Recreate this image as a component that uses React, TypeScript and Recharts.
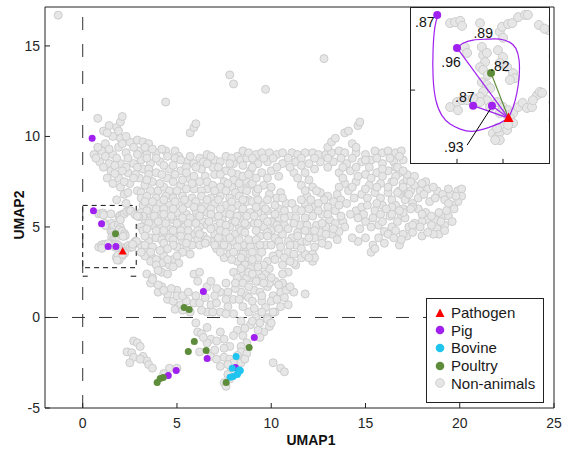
import React from 'react';
import { ScatterChart, Scatter, XAxis, YAxis, ReferenceLine, ReferenceArea } from 'recharts';

type P = [number, number];

// ---- non-animal isolates (UMAP1, UMAP2) ----
const nonAnimalsOutliers: P[] = [
  [-1.3, 16.7], [4.4, 11.9], [7.8, 13.4], [8.0, 12.9], [9.7, 12.6], [12.8, 14.3],
  [5.7, 10.2], [5.9, 10.5], [6.0, 10.7], [4.9, 9.2], [5.1, 8.9],
];

const nonAnimalsUpper: P[] = [
  [0.8, 11.0], [1.4, 10.6], [1.1, 10.3], [1.8, 10.5], [2.0, 10.8], [2.1, 11.1], [1.6, 10.0],
  [1.2, 9.6], [2.0, 9.9], [2.5, 9.7], [2.9, 9.8], [3.2, 9.7], [3.5, 9.6],
  [0.6, 9.0], [1.0, 9.2], [1.6, 9.0], [1.9, 9.4], [2.3, 9.1], [3.0, 9.2], [3.4, 9.0], [3.9, 9.1], [4.4, 9.2],
  [0.9, 8.6], [1.4, 8.5], [2.0, 8.5], [2.7, 8.5], [3.1, 8.7], [3.6, 8.5], [4.1, 8.6], [4.9, 8.8], [5.5, 8.6],
  [5.9, 8.5], [6.2, 8.8], [6.6, 9.0], [7.0, 8.7], [7.3, 8.6], [7.6, 8.9], [8.0, 8.5], [8.2, 8.9], [8.5, 9.2],
  [1.5, 8.1], [2.4, 8.0], [3.2, 8.2], [3.9, 8.0], [4.6, 8.2], [5.2, 8.1], [6.3, 8.2], [6.9, 8.3], [7.6, 8.1],
  [8.2, 7.9], [8.9, 8.1],
  [1.3, 7.7], [1.9, 7.7], [3.0, 7.7], [3.7, 7.5], [4.5, 7.7], [5.6, 7.7], [6.2, 7.5], [7.0, 7.9], [7.5, 7.5],
  [8.0, 7.6], [8.7, 7.5],
  [2.0, 7.2], [2.5, 7.4], [2.9, 7.0], [3.3, 7.3], [4.0, 7.0], [4.3, 7.2], [5.2, 7.3], [5.9, 7.1], [6.6, 7.1],
  [7.3, 7.2], [7.9, 7.2], [8.4, 7.1],
  [1.8, 6.5], [2.3, 6.3], [2.2, 6.8], [9.1, 8.6], [9.4, 9.0],
  // denser strands
  [1.3, 10.2], [1.9, 10.3], [2.3, 10.0],
  [0.8, 9.4], [1.4, 9.3], [2.1, 9.6], [2.7, 9.4], [3.3, 9.4], [3.7, 9.3], [4.2, 9.3],
  [0.7, 8.8], [1.2, 8.9], [1.8, 8.8], [2.4, 8.8], [2.9, 9.0], [3.4, 8.8], [3.9, 8.8], [4.5, 8.9], [5.2, 8.7],
  [5.7, 8.9], [6.4, 8.6], [6.8, 8.9], [7.9, 8.8], [8.4, 8.7], [8.7, 8.8],
  [1.1, 8.3], [1.7, 8.4], [2.3, 8.3], [2.9, 8.3], [3.5, 8.2], [4.3, 8.4], [4.8, 8.4], [5.5, 8.3], [6.0, 8.3],
  [6.6, 8.5], [7.2, 8.3], [7.8, 8.5], [8.5, 8.4],
  [1.7, 7.95], [2.1, 8.1], [2.8, 7.9], [3.5, 7.9], [4.2, 7.9], [4.9, 7.9], [5.5, 8.0], [5.9, 7.8], [6.5, 7.8],
  [7.3, 7.9], [7.9, 8.0], [8.5, 7.8],
  [1.6, 7.4], [2.2, 7.5], [2.7, 7.7], [3.4, 7.6], [4.1, 7.4], [4.8, 7.5], [5.3, 7.6], [5.8, 7.4], [6.6, 7.5],
  [6.9, 7.3], [7.7, 7.4], [8.3, 7.4], [8.9, 7.3],
  [2.4, 6.9], [3.1, 6.9], [3.6, 7.0], [4.6, 7.0], [5.0, 7.0], [5.5, 7.1], [6.3, 7.0], [7.0, 7.0], [7.6, 7.0],
  [8.1, 6.9], [8.7, 7.0],
];

const nonAnimalsBand: P[] = [
  [8.8, 9.1], [9.2, 9.0], [9.5, 9.1], [9.9, 9.1], [10.3, 9.0], [10.6, 9.1], [11.1, 9.1], [11.4, 9.0],
  [11.8, 9.1], [12.2, 9.1], [12.5, 9.0], [12.9, 9.0], [13.2, 9.1], [13.6, 9.2], [13.9, 9.1], [14.5, 9.1],
  [15.0, 9.0], [15.5, 9.2], [15.9, 9.1], [16.2, 9.2], [16.6, 9.1], [16.9, 9.2],
  [13.0, 9.4], [13.2, 9.7], [13.4, 9.9], [13.9, 10.2], [14.1, 10.3], [14.6, 10.6], [14.7, 10.8], [14.3, 9.6], [14.5, 9.4],
  [9.3, 8.5], [9.8, 8.6], [10.6, 8.5], [11.3, 8.6], [12.0, 8.5], [12.6, 8.6], [13.3, 8.6], [14.0, 8.5],
  [14.8, 8.6], [15.3, 8.7], [15.9, 8.5], [16.5, 8.6], [17.0, 8.7],
  [8.8, 7.9], [9.5, 8.0], [10.0, 8.1], [11.2, 8.0], [11.8, 8.0], [13.6, 8.0], [14.2, 8.1], [15.0, 7.9],
  [15.6, 8.0], [16.2, 8.1], [16.8, 8.0],
  [9.0, 7.4], [9.6, 7.3], [11.6, 7.3], [12.2, 7.2], [13.9, 7.4], [14.5, 7.5], [15.2, 7.3], [15.8, 7.4],
  [16.4, 7.5], [17.0, 7.4],
  [9.2, 6.9], [9.9, 6.8], [10.5, 6.9], [11.9, 6.7], [12.6, 6.9], [13.5, 6.8], [14.1, 7.0], [14.8, 6.8],
  [15.5, 6.9], [16.2, 6.9], [16.9, 6.8],
  [9.0, 8.8], [9.6, 8.8], [10.1, 8.8], [10.9, 8.8], [11.6, 8.8], [12.3, 8.8], [13.0, 8.8], [13.7, 8.8],
  [14.3, 8.8], [15.0, 8.7], [15.6, 8.8], [16.3, 8.8], [16.8, 8.9],
  [9.0, 8.3], [10.3, 8.3], [11.0, 8.3], [11.6, 8.4], [12.3, 8.2], [13.0, 8.3], [13.8, 8.3], [14.5, 8.3],
  [15.2, 8.3], [15.9, 8.2], [16.6, 8.3],
  [9.2, 7.7], [9.8, 7.7], [10.4, 7.8], [11.4, 7.7], [12.0, 7.6], [13.8, 7.7], [14.6, 7.8], [15.3, 7.7],
  [15.9, 7.8], [16.6, 7.8], [17.2, 7.6],
  [9.3, 7.1], [10.0, 7.2], [11.8, 7.0], [12.4, 7.0], [13.6, 7.2], [14.3, 7.2], [15.0, 7.1], [15.6, 7.2],
  [16.2, 7.2], [16.8, 7.0], [17.4, 7.0],
  [13.0, 6.7], [13.7, 6.5], [14.4, 6.6], [15.1, 6.6], [15.8, 6.6], [16.4, 6.5], [17.2, 6.7],
];

const nonAnimalsRight: P[] = [
  [16.7, 8.3], [17.2, 7.9], [17.6, 7.8], [17.9, 7.0], [18.3, 7.1], [18.8, 7.0], [19.1, 6.8], [19.5, 6.8],
  [19.9, 7.0], [20.1, 7.1], [20.1, 6.7], [19.9, 6.4], [19.6, 6.2], [19.7, 6.0], [19.2, 6.5],
  [16.7, 6.9], [17.1, 6.5], [17.5, 6.3], [17.8, 6.0], [18.2, 5.8], [18.3, 5.4], [18.0, 5.3], [17.6, 5.2],
  [17.3, 5.0], [16.9, 5.6], [18.7, 5.4], [19.1, 5.6], [19.4, 5.6], [19.6, 5.3], [19.2, 5.1], [18.8, 4.9],
  [18.9, 4.6], [18.0, 4.5], [16.8, 4.0], [16.5, 7.5], [17.0, 7.2], [17.6, 7.3], [17.8, 6.6], [18.4, 6.4],
  [16.6, 6.2], [17.0, 6.0], [18.2, 7.5],
  [14.5, 5.9], [14.8, 6.1], [15.1, 6.2], [15.5, 5.9], [15.9, 6.2], [16.4, 6.1], [17.5, 6.1],
  [15.0, 5.3], [15.4, 5.5], [15.7, 5.1], [16.0, 4.75], [16.4, 5.0], [16.7, 5.3], [17.1, 5.5], [17.5, 5.1],
  [15.0, 4.4], [15.4, 4.0], [15.3, 3.6], [15.7, 4.4], [16.2, 4.6], [15.8, 5.7], [16.3, 5.6], [17.0, 5.8],
  [16.5, 4.4], [17.2, 4.5], [16.0, 4.1], [15.5, 3.8],
  [17.0, 8.1], [17.4, 7.5], [18.0, 7.4], [18.6, 7.2], [19.4, 7.1], [19.8, 6.7], [19.4, 6.3], [18.7, 6.6],
  [18.1, 6.8], [17.3, 6.8], [17.4, 6.0], [18.0, 5.7], [18.5, 5.6], [18.9, 5.8], [19.3, 5.9], [16.8, 5.9],
  [16.4, 5.7], [17.9, 5.0], [18.5, 5.1], [19.0, 5.3], [18.6, 4.6], [19.2, 4.8], [17.0, 4.6], [17.5, 4.7],
  [16.9, 4.3], [18.3, 4.7], [15.6, 6.3], [16.1, 6.0], [14.9, 5.7], [15.3, 5.0], [14.7, 4.9], [14.6, 4.2],
  [15.9, 5.3], [16.6, 4.8],
];

const nonAnimalsMid: P[] = [
  [3.1, 6.6], [3.4, 6.7], [3.9, 6.6], [4.4, 6.7], [4.8, 6.6], [5.3, 6.7], [5.8, 6.6], [6.3, 6.7], [6.8, 6.6],
  [7.3, 6.7], [7.8, 6.6], [8.3, 6.7], [8.8, 6.5],
  [3.2, 6.2], [3.6, 6.1], [4.1, 6.3], [4.6, 6.2], [5.1, 6.2], [5.6, 6.3], [6.1, 6.2], [6.5, 6.2], [7.0, 6.3],
  [7.6, 6.2], [8.2, 6.2], [8.7, 6.4],
  [3.1, 5.8], [3.5, 5.7], [4.0, 5.7], [4.5, 5.9], [5.0, 5.8], [5.5, 5.7], [6.0, 5.9], [6.6, 5.8], [7.5, 5.7],
  [8.0, 5.5], [8.4, 5.7], [8.9, 5.8],
  [3.3, 5.4], [3.8, 5.3], [4.2, 5.5], [4.8, 5.4], [5.2, 5.3], [5.9, 5.4], [6.4, 5.3], [6.9, 5.5], [7.4, 5.4],
  [7.9, 5.2], [8.5, 5.4],
  [3.1, 5.0], [3.7, 5.1], [4.1, 5.0], [4.6, 4.9], [5.4, 5.0], [6.2, 5.0], [6.6, 5.1], [7.1, 5.0], [7.8, 5.0],
  [8.3, 4.9], [8.7, 5.1],
  [3.2, 4.8], [3.6, 4.4], [4.0, 4.6], [4.5, 4.6], [5.0, 4.6], [5.9, 4.6], [6.4, 4.5], [7.0, 4.6], [7.5, 4.4],
  [8.1, 4.6], [8.4, 4.8],
  [3.1, 4.0], [3.5, 4.2], [3.9, 4.4], [4.6, 4.4], [5.3, 4.2], [6.1, 4.3], [6.8, 4.2], [7.3, 4.2], [8.0, 4.2], [8.5, 4.0],
  [3.4, 3.8], [5.0, 3.9], [5.5, 3.8], [5.8, 4.0], [6.2, 4.0], [7.1, 3.8], [7.7, 3.9], [8.3, 3.7], [8.7, 3.6],
  [3.3, 3.4], [3.7, 3.3], [4.3, 3.4], [4.8, 3.2], [7.5, 3.3], [7.8, 3.5], [8.8, 3.3],
  [3.6, 3.1], [4.2, 3.0], [4.6, 2.9], [5.1, 3.0], [8.2, 3.1], [8.6, 2.9],
  [3.4, 2.4], [4.2, 2.5], [4.5, 2.4], [3.7, 2.2], [8.0, 2.5], [8.5, 2.4], [5.9, 2.4], [6.2, 2.5], [6.1, 2.0],
  [6.6, 1.7], [6.8, 2.0],
  [9.0, 6.4], [9.5, 6.2], [9.8, 5.9], [10.0, 5.3], [10.4, 5.5], [10.7, 5.1], [10.6, 4.6], [11.1, 4.4], [10.2, 4.4],
  [9.7, 4.0], [9.1, 3.9], [8.8, 3.5], [9.3, 3.3], [9.8, 3.1], [10.4, 3.5], [10.9, 3.6], [11.3, 4.0], [11.6, 4.2],
  [11.9, 4.2], [12.3, 4.4], [12.2, 3.5], [11.6, 3.3], [11.3, 2.9], [10.9, 2.5], [10.6, 2.4], [10.2, 2.0], [9.7, 2.4],
  [9.3, 2.5], [9.0, 2.9], [10.3, 6.6], [10.8, 6.3], [11.3, 6.0], [11.0, 5.6], [10.4, 6.0], [9.3, 5.8], [9.1, 5.2],
  [9.6, 5.0], [9.4, 4.5], [10.0, 4.8], [11.5, 5.1], [11.8, 5.5], [12.0, 4.8], [11.2, 3.0], [9.9, 2.7], [9.5, 2.2],
  [8.9, 2.2], [11.8, 6.3],
  [12.3, 6.1], [12.7, 5.7], [12.4, 5.1], [12.9, 5.0], [12.7, 4.4], [13.0, 4.0], [13.4, 5.9], [13.8, 5.3], [13.9, 5.0],
  [14.3, 4.4], [13.2, 4.6], [13.6, 4.75], [11.8, 3.5], [12.2, 3.1], [12.3, 3.3], [12.8, 6.5], [13.3, 6.4], [14.0, 6.3],
  [14.2, 5.7], [13.1, 5.4], [12.6, 4.7], [14.6, 5.5],
  // denser strands
  [3.3, 6.4], [3.7, 6.4], [4.3, 6.5], [4.9, 6.4], [5.4, 6.5], [6.0, 6.4], [6.6, 6.5], [7.2, 6.5], [7.9, 6.4],
  [8.5, 6.5], [9.3, 6.5], [9.8, 6.5], [10.6, 6.6], [11.1, 6.3], [11.6, 6.5], [12.1, 6.5], [12.5, 6.3],
  [3.4, 5.9], [3.9, 6.0], [4.3, 6.0], [4.8, 6.0], [5.3, 6.0], [5.9, 6.1], [6.3, 6.0], [6.8, 6.0], [7.3, 6.0],
  [7.9, 6.0], [8.5, 6.0], [9.2, 6.1], [9.7, 6.0], [10.2, 6.2], [10.7, 5.9], [11.6, 5.9], [12.0, 6.0], [12.5, 5.9],
  [13.0, 6.1], [13.6, 6.2],
  [3.2, 5.6], [3.8, 5.6], [4.3, 5.7], [4.7, 5.6], [5.3, 5.5], [5.7, 5.5], [6.2, 5.6], [6.8, 5.7], [7.2, 5.6],
  [7.8, 5.7], [8.2, 5.6], [8.7, 5.6], [9.1, 5.6], [9.6, 5.5], [10.2, 5.7], [10.7, 5.5], [11.3, 5.5], [12.2, 5.6],
  [13.0, 5.7], [13.7, 5.6],
  [3.5, 5.2], [4.0, 5.3], [4.4, 5.2], [5.0, 5.2], [5.6, 5.2], [6.0, 5.2], [6.7, 5.3], [7.3, 5.2], [7.6, 5.1],
  [8.1, 5.3], [8.6, 5.2], [9.3, 5.2], [9.8, 5.3], [10.3, 5.1], [11.2, 5.2], [11.9, 5.1], [12.7, 5.2], [13.4, 5.2],
  [3.4, 4.9], [3.9, 4.8], [4.3, 4.8], [4.8, 4.8], [5.2, 4.8], [5.6, 4.8], [6.1, 4.8], [6.8, 4.9], [7.3, 4.8],
  [7.6, 4.7], [8.6, 4.7], [9.2, 4.8], [9.8, 4.7], [10.4, 4.9], [10.9, 4.9], [11.4, 4.7], [11.8, 4.8], [12.3, 4.8],
  [13.3, 4.9],
  [3.3, 4.5], [4.2, 4.3], [4.8, 4.3], [5.2, 4.5], [5.6, 4.4], [6.2, 4.6], [6.6, 4.3], [7.2, 4.4], [7.8, 4.4],
  [8.3, 4.3], [8.8, 4.3], [9.2, 4.3], [9.8, 4.5], [10.4, 4.2], [10.9, 4.2], [11.4, 4.5], [12.0, 4.4], [12.9, 4.6],
  [13.5, 4.3],
  [3.3, 4.0], [3.7, 3.9], [4.3, 4.1], [4.8, 4.0], [5.5, 4.1], [6.5, 4.1], [7.0, 4.0], [7.5, 4.0], [8.2, 3.9],
  [8.9, 3.9], [9.4, 4.0], [10.0, 4.0], [10.5, 3.9], [11.0, 4.0], [11.6, 3.8], [12.3, 3.9], [12.7, 4.1],
  [3.1, 3.6], [3.6, 3.6], [4.1, 3.7], [4.5, 3.8], [5.3, 3.6], [5.7, 3.5], [7.3, 3.6], [8.0, 3.6], [8.5, 3.5],
  [9.0, 3.6], [9.5, 3.6], [10.1, 3.4], [10.7, 3.3], [11.2, 3.5], [12.0, 3.3],
  [3.9, 3.2], [4.5, 3.2], [5.0, 3.4], [7.9, 3.2], [8.4, 3.3], [9.0, 3.2], [9.6, 2.9], [10.2, 3.2], [10.6, 2.9],
  [11.0, 3.1], [9.3, 2.8], [8.9, 2.7], [8.4, 2.7], [3.9, 2.9], [4.0, 2.6], [4.8, 2.8], [8.2, 2.2], [8.7, 2.2],
];

const nonAnimalsLower: P[] = [
  [3.6, 1.9], [3.7, 2.1], [4.0, 1.4], [4.2, 1.7], [4.5, 1.0], [4.8, 0.9], [4.9, 0.45], [5.0, 1.5], [4.0, 1.8],
  [4.5, 1.3], [5.0, 1.2], [5.2, 0.7], [5.5, 0.9], [5.9, 0.8], [6.2, 0.8], [6.8, 0.7], [6.6, 0.3], [7.1, 0.8],
  [7.3, 0.3], [7.7, 0.6], [8.0, 1.0], [8.4, 1.4], [8.7, 1.2], [9.1, 1.5], [9.4, 1.4], [9.8, 1.7], [10.1, 1.2],
  [10.5, 1.4], [10.8, 1.5], [11.2, 1.4], [8.5, 1.9], [9.3, 2.0], [9.9, 1.9], [10.6, 1.9], [7.7, 1.4], [7.3, 1.4],
  [7.6, 1.9], [8.1, 1.6], [8.8, 1.1], [5.3, 0.4], [5.7, 0.3],
  [8.8, 2.5], [9.2, 2.0], [8.8, 1.7], [9.0, 0.9], [9.5, 0.9], [8.8, 0.3], [9.7, 0.55], [9.2, 0.0], [10.0, 0.9],
  [10.9, 0.7], [10.2, 0.3], [9.8, 0.0], [10.4, 1.8], [11.8, 1.3],
  [9.8, -0.1], [9.9, -0.5], [9.6, -0.8], [10.1, 0.3], [10.5, 0.6], [9.3, -0.7], [9.4, -1.1],
  [8.0, 0.2], [8.4, -0.2], [8.9, -0.4],
  [6.0, -0.3], [6.1, -0.8], [6.3, -0.9], [6.6, -0.55], [6.8, -1.2], [7.1, -1.3], [7.5, -1.2], [7.3, -0.8],
  [8.2, -0.7], [8.5, -1.0], [8.7, -1.4], [8.4, -1.6], [8.4, -1.9], [6.2, -1.9], [6.8, -2.15], [7.1, -2.3],
  [7.5, -2.2], [7.8, -2.3], [8.0, -2.5], [7.9, -2.9], [7.7, -3.15], [7.5, -3.6], [7.6, -3.8], [8.4, -2.5],
  [8.7, -2.0], [7.8, -3.4],
  [2.7, -1.3], [2.9, -1.4], [3.05, -1.6], [2.35, -1.9], [2.6, -1.95], [2.7, -2.2], [2.5, -2.5], [3.2, -2.15],
  [3.4, -2.4], [3.5, -2.6], [3.7, -2.8], [3.05, -2.3],
  [4.6, -2.8], [5.0, -2.8], [4.3, -3.1],
  [10.1, -2.5], [10.5, -2.8], [10.7, -3.0],
  [4.3, 1.5], [4.7, 1.6], [5.3, 1.2], [5.6, 1.4], [6.0, 1.2], [6.5, 1.1], [7.0, 1.2], [7.6, 1.0], [8.3, 1.0],
  [8.5, 0.6], [9.1, 0.5], [9.5, 1.2], [10.3, 1.0], [10.7, 1.1], [11.0, 1.7], [9.6, 1.9], [10.0, 2.2], [9.0, 2.4],
  [8.1, 1.9], [7.1, 1.6], [6.9, 0.3], [6.3, 0.4], [7.6, 0.2], [9.5, 0.3], [9.0, -0.2], [9.4, -0.3], [10.0, -0.3],
  [8.6, -0.6], [8.0, -1.0], [7.8, -1.6], [7.5, -1.7], [7.0, -1.8], [6.6, -1.4], [6.4, -1.1], [8.2, -2.1],
  [7.7, -2.6], [7.3, -2.7], [8.6, -2.3],
];

// points inside the dashed box
const nonAnimalsBox: P[] = [
  [0.85, 5.72], [0.96, 5.74], [1.07, 5.77], [1.11, 5.66], [1.5, 5.72], [1.93, 5.53], [1.98, 5.64], [2.11, 5.7],
  [2.2, 5.72], [2.33, 5.85], [2.48, 5.9], [2.54, 5.9], [1.17, 5.2], [1.22, 5.07], [1.54, 5.2], [1.57, 5.02],
  [1.61, 4.87], [1.5, 4.76], [1.65, 5.07], [1.89, 5.13], [2.0, 4.98], [1.93, 4.85], [2.09, 4.76], [2.22, 4.63],
  [2.26, 4.52], [2.15, 4.48], [1.57, 4.7], [1.67, 4.59], [1.54, 4.43], [1.65, 4.37], [1.72, 4.3], [1.57, 4.22],
  [1.5, 4.11], [1.65, 4.04], [1.87, 4.0], [1.72, 3.89], [2.0, 3.89], [2.11, 3.82], [1.93, 3.76], [2.09, 3.71],
  [2.22, 3.76], [0.85, 3.89], [1.0, 4.0], [1.11, 4.04], [1.22, 4.04], [1.02, 3.82], [1.5, 4.0], [2.33, 3.89],
  [2.43, 3.98], [2.52, 3.87], [2.63, 3.89], [2.74, 4.15], [2.8, 4.22], [2.85, 4.2], [2.65, 4.04], [1.78, 3.32],
  [1.87, 3.23], [1.93, 3.34], [2.0, 3.45], [2.09, 3.39], [1.87, 3.43], [1.93, 3.17], [1.83, 3.17], [2.15, 3.65],
  [2.22, 3.54], [2.11, 3.5], [2.98, 5.57], [2.78, 5.68], [2.9, 5.6], [2.0, 5.4], [1.35, 4.08],
];

const nonAnimals: P[] = [
  ...nonAnimalsOutliers, ...nonAnimalsUpper, ...nonAnimalsBand, ...nonAnimalsRight,
  ...nonAnimalsMid, ...nonAnimalsLower, ...nonAnimalsBox,
];

// ---- animal isolates ----
const pig: P[] = [
  [0.5, 9.9], [0.57, 5.9], [1.0, 5.18], [1.35, 3.92], [1.76, 3.92], [6.4, 1.44], [9.1, -1.1],
  [6.6, -2.27], [8.1, -2.76], [4.54, -3.2], [4.96, -2.93],
];
const bovine: P[] = [
  [8.14, -2.15], [7.98, -3.26], [7.82, -3.3], [8.25, -3.04], [8.2, -3.15], [8.36, -2.93], [7.93, -2.8], [8.3, -2.9],
];
const poultry: P[] = [
  [1.74, 4.63], [5.38, 0.55], [5.65, 0.44], [5.92, -1.33], [5.6, -1.88], [6.55, -1.82], [8.83, -1.66],
  [7.61, -3.59], [3.95, -3.59], [4.11, -3.37], [4.27, -3.31],
];
const pathogen: P[] = [[2.12, 3.65]];

// ---- inset annotations ----
const loopToTopPig: P[] = [
  [0.59, 5.9], [0.52, 5.64], [0.48, 5.14], [0.48, 4.55], [0.54, 4.04], [0.67, 3.71], [0.85, 3.52],
  [1.07, 3.41], [1.33, 3.36], [1.65, 3.43], [1.93, 3.54], [2.12, 3.65],
];
const loopToPig96: P[] = [
  [2.12, 3.65], [2.22, 3.89], [2.3, 4.19], [2.35, 4.54], [2.35, 4.91], [2.28, 5.17], [2.15, 5.3],
  [1.93, 5.37], [1.65, 5.37], [1.35, 5.35], [1.13, 5.28], [1.0, 5.18],
];
const links: { to: P; color: string }[] = [
  { to: [1.0, 5.18], color: '#a020f0' },
  { to: [1.74, 4.63], color: '#5d8c3b' },
  { to: [1.35, 3.92], color: '#a020f0' },
  { to: [1.76, 3.92], color: '#a020f0' },
];
const pointer: P[] = [[1.22, 3.06], [1.76, 3.9]];
const insetLabels = [
  { x: 0.3, y: 5.74, text: '.87' },
  { x: 1.57, y: 5.5, text: '.89' },
  { x: 0.87, y: 4.87, text: '.96' },
  { x: 1.93, y: 4.78, text: '.82' },
  { x: 1.17, y: 4.11, text: '.87' },
  { x: 0.93, y: 3.02, text: '.93' },
];
const INSET_X: [number, number] = [0, 3];
const INSET_Y: [number, number] = [2.67, 6.05];
const insetXTicks = [1, 2];
const insetYTicks = [4.26];

const xTicks = [0, 5, 10, 15, 20, 25];
const yTicks = [-5, 0, 5, 10, 15];

const PURPLE = '#a020f0';
const CYAN = '#1fc4ef';
const GREEN = '#5d8c3b';
const RED = '#ff0000';
const GRAY_FILL = '#e6e6e6';
const GRAY_EDGE = '#cdcdcd';
const AXIS = '#222';

const legendItems = [
  { name: 'Pathogen', color: RED, kind: 'tri' },
  { name: 'Pig', color: PURPLE, kind: 'dot' },
  { name: 'Bovine', color: CYAN, kind: 'dot' },
  { name: 'Poultry', color: GREEN, kind: 'dot' },
  { name: 'Non-animals', color: GRAY_FILL, kind: 'gray' },
];

const xy = (arr: P[]) => arr.map(([x, y]) => ({ x, y }));

const dot = (r: number, fill: string, stroke = 'none') => (p: any) => (
  <circle cx={p.cx} cy={p.cy} r={r} fill={fill} stroke={stroke} strokeWidth={1} />
);
const tri = (s: number, fill: string) => (p: any) => (
  <path
    d={`M${p.cx},${p.cy - s * 0.55} L${p.cx + s / 2},${p.cy + s * 0.4} L${p.cx - s / 2},${p.cy + s * 0.4} Z`}
    fill={fill}
  />
);
const none = () => <g />;

const FONT = '"Liberation Sans", Arial, sans-serif';

export default function App() {
  return (
    <div style={{ position: 'absolute', left: 0, top: 0, width: 566, height: 449, background: '#fff', fontFamily: FONT }}>
      <ScatterChart width={566} height={449} margin={{ top: 7, right: 12, bottom: 11, left: 5 }}>
        <XAxis
          type="number" dataKey="x" domain={[-2, 25]} ticks={xTicks} interval={0} allowDataOverflow
          height={30} tickSize={-5} tickMargin={15} stroke={AXIS}
          tick={{ fontSize: 14, fill: '#262626' }}
        />
        <YAxis
          type="number" dataKey="y" domain={[-5, 17.15]} ticks={yTicks} interval={0} allowDataOverflow
          width={40} tickSize={-5} tickMargin={10} stroke={AXIS}
          tick={{ fontSize: 14, fill: '#262626' }}
        />
        <ReferenceLine y={17.15} stroke={AXIS} />
        <ReferenceLine x={25} stroke={AXIS} />
        <ReferenceLine x={0} stroke="#333" strokeDasharray="13 14" />
        <ReferenceLine y={0} stroke="#333" strokeDasharray="13 14" />
        <Scatter data={xy(nonAnimals)} shape={dot(4, GRAY_FILL, GRAY_EDGE)} isAnimationActive={false} />
        <Scatter data={xy(pig)} shape={dot(3.5, PURPLE)} isAnimationActive={false} />
        <Scatter data={xy(bovine)} shape={dot(3.5, CYAN)} isAnimationActive={false} />
        <Scatter data={xy(poultry)} shape={dot(3.5, GREEN)} isAnimationActive={false} />
        <Scatter data={xy(pathogen)} shape={tri(8, RED)} isAnimationActive={false} />
        <ReferenceArea x1={0} x2={2.84} y1={2.75} y2={6.19} fill="none" stroke="#111" strokeDasharray="5 4" />
        <ReferenceLine
          segment={[{ x: 0, y: 2.28 }, { x: 2.84, y: 2.28 }]}
          stroke="#111" strokeDasharray="5 43 6 100"
        />
      </ScatterChart>

      {/* zoomed inset of the dashed box */}
      <div style={{
        position: 'absolute', left: 410, top: 7, width: 138, height: 155, background: '#fff',
        border: `1px solid ${AXIS}`, overflow: 'hidden',
      }}>
        <ScatterChart width={138} height={155} margin={{ top: 0, right: 0, bottom: 0, left: 0 }}>
          <XAxis type="number" dataKey="x" domain={INSET_X} allowDataOverflow hide />
          <YAxis type="number" dataKey="y" domain={INSET_Y} allowDataOverflow hide />
          {insetXTicks.map((t) => (
            <ReferenceLine key={`xt${t}`} segment={[{ x: t, y: INSET_Y[0] }, { x: t, y: INSET_Y[0] + 0.09 }]} stroke={AXIS} />
          ))}
          {insetYTicks.map((t) => (
            <ReferenceLine key={`yt${t}`} segment={[{ x: INSET_X[0], y: t }, { x: INSET_X[0] + 0.09, y: t }]} stroke={AXIS} />
          ))}
          <Scatter data={xy(nonAnimals)} shape={dot(4.5, GRAY_FILL, GRAY_EDGE)} isAnimationActive={false} />
          <Scatter data={xy(loopToTopPig)} shape={none} line={{ stroke: PURPLE, strokeWidth: 1.2 }}
            lineJointType="natural" isAnimationActive={false} />
          <Scatter data={xy(loopToPig96)} shape={none} line={{ stroke: PURPLE, strokeWidth: 1.2 }}
            lineJointType="natural" isAnimationActive={false} />
          {links.map((l, i) => (
            <Scatter key={i} data={xy([pathogen[0], l.to])} shape={none}
              line={{ stroke: l.color, strokeWidth: 1.2 }} isAnimationActive={false} />
          ))}
          <Scatter data={xy(pointer)} shape={none} line={{ stroke: '#000', strokeWidth: 1 }} isAnimationActive={false} />
          <Scatter data={xy(pig)} shape={dot(4, PURPLE)} isAnimationActive={false} />
          <Scatter data={xy(poultry)} shape={dot(4, GREEN)} isAnimationActive={false} />
          <Scatter data={xy(pathogen)} shape={tri(10, RED)} isAnimationActive={false} />
          <Scatter
            data={insetLabels}
            shape={(p: any) => (
              <text x={p.cx} y={p.cy} textAnchor="middle" dominantBaseline="central" fontSize={14} fill="#111">
                {p.payload.text}
              </text>
            )}
            isAnimationActive={false}
          />
        </ScatterChart>
      </div>

      {/* legend */}
      <div style={{
        position: 'absolute', left: 426, top: 298, width: 116, height: 98, border: '1px solid #222',
        background: '#fff', paddingTop: 5, boxSizing: 'content-box',
      }}>
        {legendItems.map((it) => (
          <div key={it.name} style={{ display: 'flex', alignItems: 'center', height: 17.6, fontSize: 15, color: '#1a1a1a' }}>
            <svg width={24} height={12} style={{ flex: 'none' }}>
              {it.kind === 'tri' ? (
                <path d="M13,1.5 L17.5,10 L8.5,10 Z" fill={it.color} />
              ) : (
                <circle cx={13} cy={6} r={4.3} fill={it.color} stroke={it.kind === 'gray' ? GRAY_EDGE : 'none'} />
              )}
            </svg>
            <span style={{ whiteSpace: 'nowrap' }}>{it.name}</span>
          </div>
        ))}
      </div>

      {/* axis titles */}
      <div style={{ position: 'absolute', left: 281, top: 432, width: 60, textAlign: 'center', fontSize: 14, fontWeight: 'bold', lineHeight: '16px', color: '#111' }}>
        UMAP1
      </div>
      <div style={{
        position: 'absolute', left: 19, top: 215, transform: 'translate(-50%, -50%) rotate(-90deg)',
        fontSize: 14, fontWeight: 'bold', lineHeight: '16px', whiteSpace: 'nowrap', color: '#111',
      }}>
        UMAP2
      </div>
    </div>
  );
}
